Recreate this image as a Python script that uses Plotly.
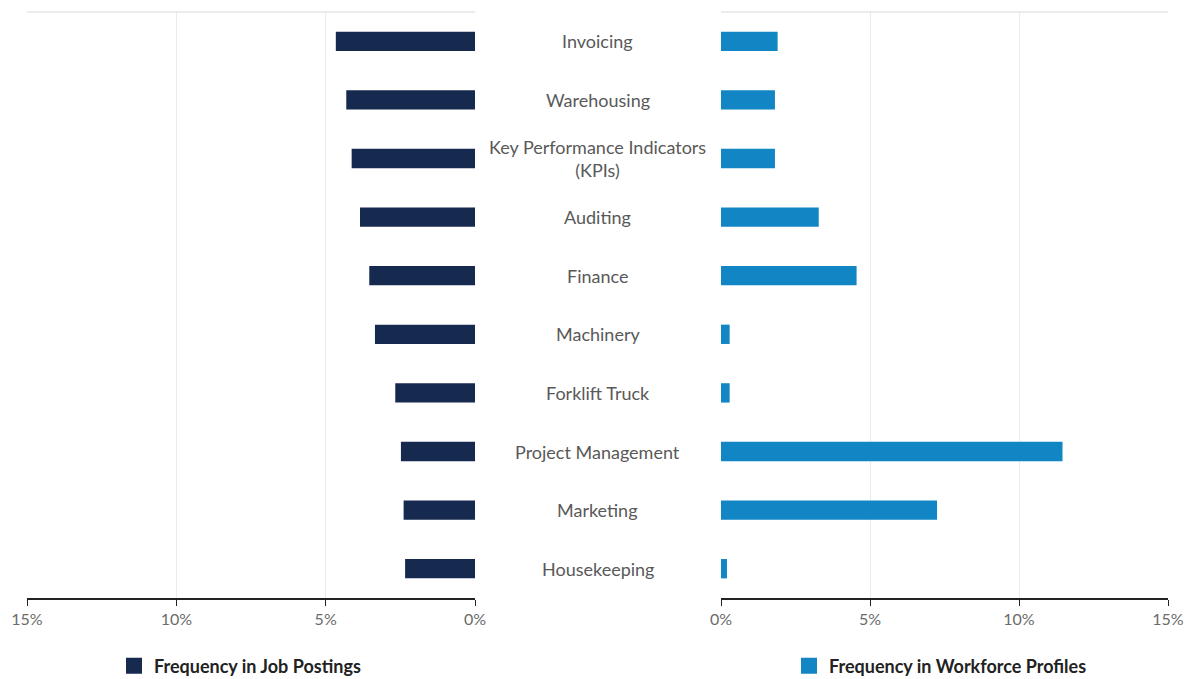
import plotly.graph_objects as go
from plotly.subplots import make_subplots

skills = ["Invoicing", "Warehousing", "Key Performance Indicators<br>(KPIs)", "Auditing",
          "Finance", "Machinery", "Forklift Truck", "Project Management", "Marketing", "Housekeeping"]
job_postings = [4.66, 4.31, 4.13, 3.85, 3.54, 3.35, 2.67, 2.48, 2.39, 2.34]
workforce_profiles = [1.90, 1.81, 1.81, 3.28, 4.55, 0.29, 0.29, 11.46, 7.25, 0.20]
tick_vals = [0, 5, 10, 15]
tick_text = ["0%", "5%", "10%", "15%"]
series_names = ["Frequency in Job Postings", "Frequency in Workforce Profiles"]

FONT = "Lato, 'Open Sans', sans-serif"
NAVY = "#16294f"
BLUE = "#1286c4"

fig = make_subplots(rows=1, cols=2, shared_yaxes=False, horizontal_spacing=0)

fig.add_trace(go.Bar(y=skills, x=job_postings, orientation="h", marker=dict(color=NAVY, line=dict(width=0)),
                     width=0.33, name=series_names[0], showlegend=False,
                     hovertemplate="%{x:.2f}%<extra></extra>"), row=1, col=1)
fig.add_trace(go.Bar(y=skills, x=workforce_profiles, orientation="h", marker=dict(color=BLUE, line=dict(width=0)),
                     width=0.33, name=series_names[1], showlegend=False,
                     hovertemplate="%{x:.2f}%<extra></extra>"), row=1, col=2)
# legend entries (square swatches)
fig.add_trace(go.Scatter(x=[None], y=[None], mode="markers", name=series_names[0], legend="legend",
                         marker=dict(symbol="square", size=16, color=NAVY), hoverinfo="skip"), row=1, col=1)
fig.add_trace(go.Scatter(x=[None], y=[None], mode="markers", name=series_names[1], legend="legend2",
                         marker=dict(symbol="square", size=16, color=BLUE), hoverinfo="skip"), row=1, col=2)

W, H = 1195, 679
ml, mr, mt, mb = 27, 27, 12, 81
pw = W - ml - mr
left_dom = [0, (475 - ml) / pw]
right_dom = [(721 - ml) / pw, 1]

axis_common = dict(
    tickvals=tick_vals, ticktext=tick_text, showgrid=True, gridcolor="#ebebeb", gridwidth=1,
    showline=True, linecolor="#222222", linewidth=2, ticks="outside", ticklen=6, tickcolor="#222222",
    tickwidth=1, tickfont=dict(family=FONT, size=16, color="#6b6b6b"), zeroline=False, fixedrange=True,
    automargin=False,
)
fig.update_xaxes(range=[15, 0], domain=left_dom, **axis_common, row=1, col=1)
fig.update_xaxes(range=[0, 15], domain=right_dom, **axis_common, row=1, col=2)
fig.update_yaxes(categoryorder="array", categoryarray=skills, autorange="reversed",
                 showticklabels=False, showgrid=False, showline=False, ticks="", zeroline=False,
                 fixedrange=True, automargin=False)

for s in skills:
    fig.add_annotation(x=0.5, xref="paper", y=s, yref="y", text=s, showarrow=False,
                       font=dict(family=FONT, size=18, color="#595959"), align="center")

for xr in ["x domain", "x2 domain"]:
    fig.add_shape(type="line", xref=xr, yref="paper", x0=0, x1=1, y0=1, y1=1,
                  line=dict(color="#e6e6e6", width=1.5))

legend_font = dict(family=FONT, size=18, color="#222222", weight="bold")
legend_y = 1 - 666 / H
fig.update_layout(
    width=W, height=H, margin=dict(l=ml, r=mr, t=mt, b=mb, autoexpand=False),
    paper_bgcolor="white", plot_bgcolor="white", bargap=0.67,
    showlegend=True,
    legend=dict(x=114 / W, y=legend_y, xref="container", yref="container", xanchor="left", yanchor="middle",
                font=legend_font, bgcolor="rgba(0,0,0,0)"),
    legend2=dict(x=789 / W, y=legend_y, xref="container", yref="container", xanchor="left", yanchor="middle",
                 font=legend_font, bgcolor="rgba(0,0,0,0)"),
    font=dict(family=FONT),
)

fig.write_html("out.html", config={"displayModeBar": False})
